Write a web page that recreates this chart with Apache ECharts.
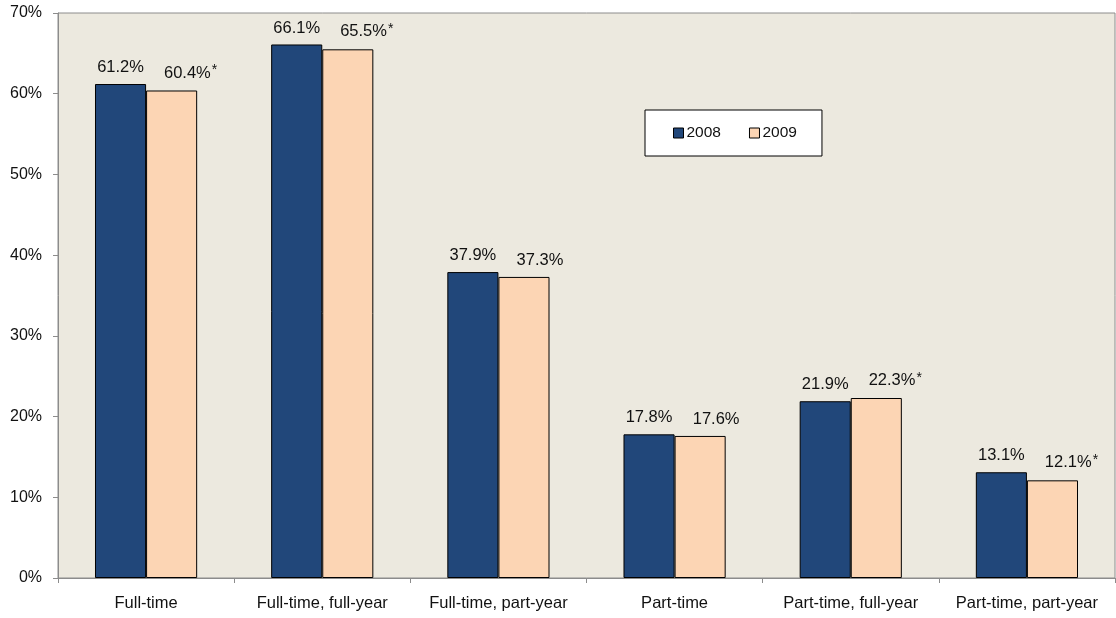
<!DOCTYPE html>
<html>
<head>
<meta charset="utf-8">
<script src="https://cdn.jsdelivr.net/npm/echarts@6/dist/echarts.min.js"></script>
<style>
html,body{margin:0;padding:0;background:#fff;}
#chart{width:1116px;height:618px;}
</style>
</head>
<body>
<div id="chart"></div>
<script>
// Employment categories and shares by year
const categories = ['Full-time', 'Full-time, full-year', 'Full-time, part-year', 'Part-time', 'Part-time, full-year', 'Part-time, part-year'];
const values2008 = [61.2, 66.1, 37.9, 17.8, 21.9, 13.1];
const values2009 = [60.4, 65.5, 37.3, 17.6, 22.3, 12.1];
// statistically significant change flags for 2009
const flags2009 = [true, true, false, false, true, true];
const yTicks = [0, 10, 20, 30, 40, 50, 60, 70];

const FONT = '"Liberation Sans", Arial, Helvetica, sans-serif';
const chart = echarts.init(document.getElementById('chart'));

const labelRich = {
  v: { fontSize: 16.5, fontFamily: FONT, color: '#111' },
  s: { fontSize: 14, fontFamily: FONT, color: '#111', verticalAlign: 'top', padding: [0, 0, 5, 1] }
};

// 2009 labels sit a little to the right of their bars; a trailing asterisk marks significance
const data2009 = values2009.map((v, i) => ({
  value: v,
  label: { offset: [flags2009[i] ? 19 : 16, 0] }
}));

chart.setOption({
  animation: false,
  textStyle: { fontFamily: FONT },
  grid: { left: 58, right: 1, top: 13, bottom: 40, show: true, backgroundColor: '#ECE9DF', borderColor: '#8c8c8c', borderWidth: 1 },
  legend: {
    data: ['2008', '2009'],
    left: 645, top: 110,
    backgroundColor: '#fff', borderColor: '#000', borderWidth: 1,
    padding: [15, 25, 15, 28],
    icon: 'rect',
    itemWidth: 10, itemHeight: 10, itemGap: 28,
    textStyle: { fontSize: 15.5, fontFamily: FONT, color: '#111', padding: [0, 0, 0, -2] },
    itemStyle: { borderColor: '#000', borderWidth: 1 }
  },
  xAxis: {
    type: 'category',
    data: categories,
    axisLine: { lineStyle: { color: '#8c8c8c', width: 1 } },
    axisTick: { show: true, alignWithLabel: false, length: 5, lineStyle: { color: '#8c8c8c' } },
    axisLabel: { fontSize: 16.5, fontFamily: FONT, color: '#111', margin: 17, interval: 0 }
  },
  yAxis: {
    type: 'value',
    min: 0, max: 70, interval: 10,
    axisLine: { show: true, lineStyle: { color: '#8c8c8c', width: 1 } },
    axisTick: { show: true, length: 5, lineStyle: { color: '#8c8c8c' } },
    splitLine: { show: false },
    axisLabel: {
      fontSize: 16, fontFamily: FONT, color: '#111', margin: 16,
      formatter: v => (yTicks.includes(v) ? v + '%' : '')
    }
  },
  series: [
    {
      name: '2008', type: 'bar', data: values2008,
      barWidth: '29%', barGap: '0%',
      itemStyle: { color: '#21477A', borderColor: '#000', borderWidth: 1 },
      label: {
        show: true, position: 'top', distance: 8,
        formatter: p => '{v|' + p.value.toFixed(1) + '%}', rich: labelRich
      }
    },
    {
      name: '2009', type: 'bar', data: data2009,
      barWidth: '29%', barGap: '0%',
      itemStyle: { color: '#FCD5B4', borderColor: '#000', borderWidth: 1 },
      label: {
        show: true, position: 'top', distance: 8,
        formatter: p => '{v|' + p.value.toFixed(1) + '%}' + (flags2009[p.dataIndex] ? '{s|*}' : ''),
        rich: labelRich
      }
    }
  ]
});
</script>
</body>
</html>
